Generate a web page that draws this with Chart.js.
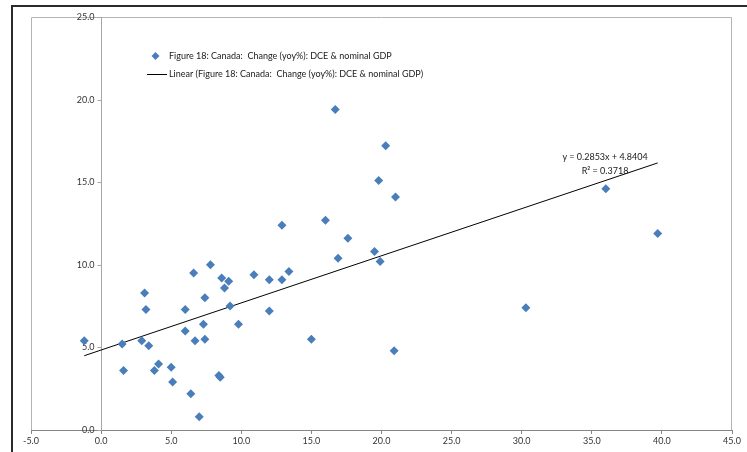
<!DOCTYPE html>
<html>
<head>
<meta charset="utf-8">
<script src="https://cdn.jsdelivr.net/npm/chart.js@4.4.1/dist/chart.umd.min.js"></script>
<style>
  html, body { margin: 0; padding: 0; background: #fff; }
  #wrap { width: 747px; height: 452px; }
</style>
</head>
<body>
<div id="wrap"><canvas id="chart" width="747" height="452"></canvas></div>
<script>
// values
const xValues = [-1.2, 1.5, 1.6, 2.9, 3.1, 3.2, 3.4, 3.8, 4.1, 5.0, 5.1, 6.0, 6.0, 6.4, 6.6, 6.7, 7.0, 7.4, 7.3, 7.4, 7.8, 8.4, 8.5, 8.6, 8.8, 9.1, 9.2, 9.8, 10.9, 12.0, 12.0, 12.9, 12.9, 13.4, 15.0, 16.0, 16.7, 16.9, 17.6, 19.5, 19.8, 19.9, 20.3, 20.9, 21.0, 30.3, 36.0, 39.7];
const yValues = [5.4, 5.2, 3.6, 5.4, 8.3, 7.3, 5.1, 3.6, 4.0, 3.8, 2.9, 6.0, 7.3, 2.2, 9.5, 5.4, 0.8, 8.0, 6.4, 5.5, 10.0, 3.3, 3.2, 9.2, 8.6, 9.0, 7.5, 6.4, 9.4, 9.1, 7.2, 12.4, 9.1, 9.6, 5.5, 12.7, 19.4, 10.4, 11.6, 10.8, 15.1, 10.2, 17.2, 4.8, 14.1, 7.4, 14.6, 11.9];
const xTicks = [-5, 0, 5, 10, 15, 20, 25, 30, 35, 40, 45];
const yTicks = [0, 5, 10, 15, 20, 25];
const slope = 0.2853;
const intercept = 4.8404;
const rSquared = 0.3718;
const seriesName = 'Figure 18: Canada:  Change (yoy%): DCE & nominal GDP';
const trendName = 'Linear (Figure 18: Canada:  Change (yoy%): DCE & nominal GDP)';

const FONT = 'Lato';
const BLUE = '#4A7EBB';

const points = xValues.map((x, i) => ({ x: x, y: yValues[i] }));
const xMin = Math.min(...xValues), xMax = Math.max(...xValues);
const trend = [xMin, xMax].map(x => ({ x: x, y: slope * x + intercept }));

// frame, plot border, y axis crossing at x = 0, legend and equation text
const decor = {
  id: 'decor',
  beforeDraw(chart) {
    const ctx = chart.ctx;
    ctx.save();
    ctx.fillStyle = '#fff';
    ctx.fillRect(0, 0, chart.width, chart.height);
    ctx.strokeStyle = '#2b2b2b';
    ctx.lineWidth = 2;
    ctx.beginPath();
    ctx.moveTo(12, chart.height);
    ctx.lineTo(12, 6);
    ctx.lineTo(chart.width, 6);
    ctx.stroke();
    ctx.restore();
  },
  beforeDatasetsDraw(chart) {
    const { ctx, chartArea: a, scales } = chart;
    ctx.save();
    ctx.strokeStyle = '#b4b4b4';
    ctx.lineWidth = 1;
    ctx.beginPath();
    ctx.moveTo(a.left + 0.5, a.bottom);
    ctx.lineTo(a.left + 0.5, a.top + 0.5);
    ctx.lineTo(a.right - 0.5, a.top + 0.5);
    ctx.lineTo(a.right - 0.5, a.bottom);
    ctx.stroke();

    // y axis at x = 0
    const x0 = Math.round(scales.x.getPixelForValue(0)) + 0.5;
    ctx.strokeStyle = '#a6a6a6';
    ctx.beginPath();
    ctx.moveTo(x0, a.top);
    ctx.lineTo(x0, a.bottom);
    yTicks.forEach(v => {
      const py = Math.round(scales.y.getPixelForValue(v)) + 0.5;
      ctx.moveTo(x0 - 4, py);
      ctx.lineTo(x0, py);
    });
    ctx.stroke();
    ctx.fillStyle = '#333';
    ctx.font = '9px ' + FONT;
    ctx.textAlign = 'right';
    ctx.textBaseline = 'middle';
    yTicks.forEach(v => {
      ctx.fillText(v.toFixed(1), x0 - 7, scales.y.getPixelForValue(v));
    });
    ctx.restore();
  },
  afterDraw(chart) {
    const ctx = chart.ctx;
    ctx.save();
    ctx.font = '9px ' + FONT;
    ctx.textBaseline = 'middle';
    ctx.textAlign = 'left';
    // legend row 1
    ctx.fillStyle = BLUE;
    ctx.beginPath();
    ctx.moveTo(155.5, 52);
    ctx.lineTo(159.5, 56);
    ctx.lineTo(155.5, 60);
    ctx.lineTo(151.5, 56);
    ctx.closePath();
    ctx.fill();
    ctx.fillStyle = '#1a1a1a';
    ctx.fillText(seriesName, 169, 56);
    // legend row 2
    ctx.strokeStyle = '#000';
    ctx.lineWidth = 1;
    ctx.beginPath();
    ctx.moveTo(147, 74.5);
    ctx.lineTo(167, 74.5);
    ctx.stroke();
    ctx.fillText(trendName, 169, 74);
    // equation
    ctx.textAlign = 'center';
    ctx.fillText('y = ' + slope.toFixed(4) + 'x + ' + intercept.toFixed(4), 605, 157);
    ctx.fillText('R\u00b2 = ' + rSquared.toFixed(4), 605, 171);
    ctx.restore();
  }
};

new Chart(document.getElementById('chart'), {
  type: 'scatter',
  data: {
    datasets: [
      {
        label: seriesName,
        data: points,
        pointStyle: 'rectRot',
        pointRadius: 4.5,
        pointHoverRadius: 4.5,
        backgroundColor: BLUE,
        borderColor: BLUE,
        borderWidth: 0
      },
      {
        type: 'line',
        label: trendName,
        data: trend,
        borderColor: '#000',
        borderWidth: 1,
        pointRadius: 0,
        fill: false
      }
    ]
  },
  options: {
    responsive: false,
    devicePixelRatio: 1,
    animation: false,
    layout: { padding: { left: 31, top: 17, right: 15, bottom: 0 } },
    plugins: { legend: { display: false }, tooltip: { enabled: false } },
    scales: {
      x: {
        type: 'linear',
        min: xTicks[0],
        max: xTicks[xTicks.length - 1],
        afterBuildTicks: s => { s.ticks = xTicks.map(v => ({ value: v })); },
        afterFit: s => { s.height = 22; },
        ticks: {
          callback: v => v.toFixed(1),
          color: '#333',
          font: { family: FONT, size: 9 },
          padding: 2,
          maxRotation: 0
        },
        grid: { drawOnChartArea: false, drawTicks: true, tickLength: 4, color: '#868686' },
        border: { color: '#868686', width: 1 }
      },
      y: {
        type: 'linear',
        display: false,
        min: yTicks[0],
        max: yTicks[yTicks.length - 1]
      }
    }
  },
  plugins: [decor]
});
</script>
</body>
</html>
